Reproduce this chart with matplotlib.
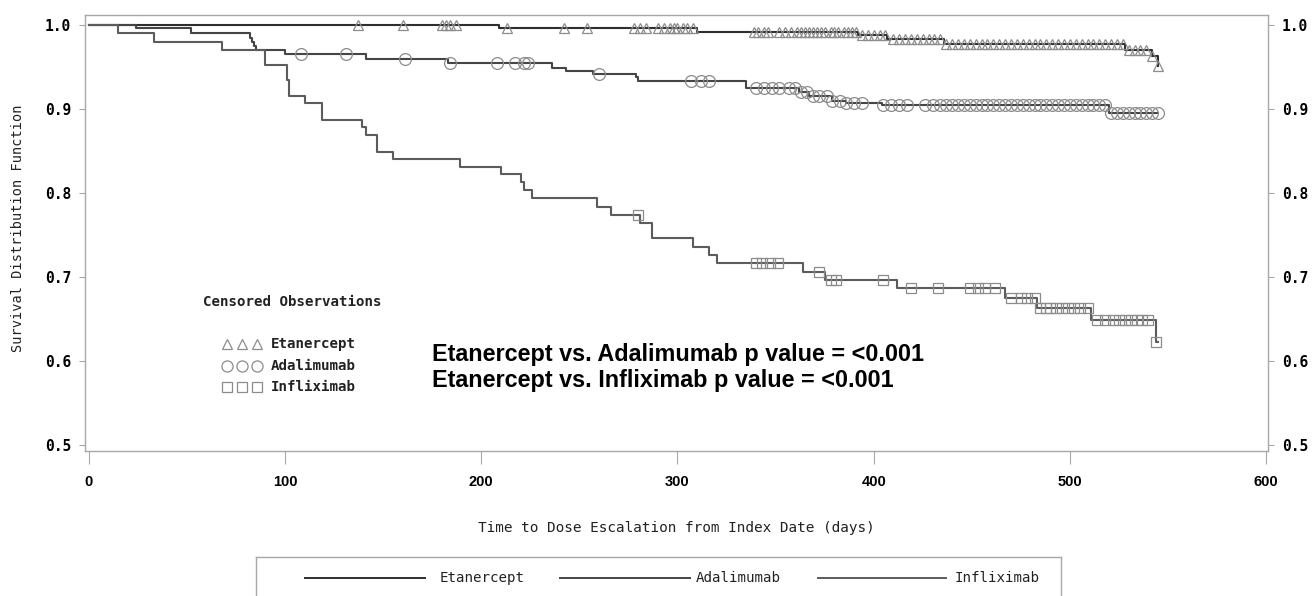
import numpy as np
import matplotlib
matplotlib.use("Agg")
import matplotlib.pyplot as plt
from matplotlib.lines import Line2D

# ---------------- data ----------------
eta_times = [0, 209, 310, 392, 407, 436, 528, 542, 545]
eta_surv = [1.0, 0.996, 0.992, 0.988, 0.983, 0.978, 0.970, 0.963, 0.951]
eta_cens = [137, 160, 180, 182, 184, 187, 213, 242, 254, 278, 281, 284, 290, 293,
            296, 298, 300, 303, 305, 308, 339, 341, 344, 346, 352, 355, 358, 361,
            363, 365, 367, 369, 371, 373, 375, 378, 380, 382, 385, 387, 389, 391,
            394, 397, 400, 403, 406, 410, 413, 416, 419, 422, 425, 428, 431, 434,
            437, 440, 443, 446, 449, 452, 455, 458, 461, 464, 467, 470, 473, 476,
            479, 482, 485, 488, 491, 494, 497, 500, 503, 506, 509, 512, 515, 518,
            521, 524, 527, 530, 533, 536, 539, 542, 545]

ada_times = [0, 24, 52, 82, 83, 84, 85, 100, 141, 183, 236, 243, 257, 279, 280,
             335, 362, 367, 379, 386, 404, 520]
ada_surv = [1.0, 0.997, 0.990, 0.985, 0.980, 0.975, 0.970, 0.966, 0.960, 0.955,
            0.949, 0.945, 0.942, 0.938, 0.934, 0.925, 0.920, 0.915, 0.910, 0.907,
            0.905, 0.895]
ada_cens = [108, 131, 161, 184, 208, 217, 222, 224, 260, 307, 312, 316, 340, 344,
            348, 352, 357, 360, 363, 366, 369, 372, 376, 379, 383, 386, 390, 394,
            405, 409, 413, 417, 426, 430, 434, 437, 440, 443, 446, 449, 452, 455,
            458, 461, 464, 467, 470, 473, 476, 479, 482, 485, 488, 491, 494, 497,
            500, 503, 506, 509, 512, 515, 518, 521, 524, 527, 530, 533, 536, 539,
            542, 545]

inf_times = [0, 15, 33, 68, 90, 101, 102, 110, 119, 139, 141, 147, 155, 189, 210,
             220, 222, 226, 259, 266, 281, 287, 308, 316, 320, 364, 375, 412, 467,
             483, 511, 544]
inf_surv = [1.0, 0.990, 0.980, 0.970, 0.952, 0.935, 0.915, 0.907, 0.887, 0.879,
            0.869, 0.849, 0.840, 0.831, 0.823, 0.813, 0.804, 0.794, 0.784, 0.774,
            0.764, 0.746, 0.736, 0.726, 0.717, 0.706, 0.696, 0.687, 0.675, 0.663,
            0.649, 0.623]
inf_cens = [280, 340, 343, 347, 351, 372, 378, 381, 405, 419, 433, 449, 453, 457,
            462, 470, 475, 478, 482, 485, 488, 490, 493, 496, 499, 502, 505, 509,
            514, 518, 522, 525, 528, 531, 534, 537, 540, 544]
end_day = 545

x_ticks = [0, 100, 200, 300, 400, 500, 600]
y_ticks = [0.5, 0.6, 0.7, 0.8, 0.9, 1.0]
series_names = ["Etanercept", "Adalimumab", "Infliximab"]

# ---------------- figure ----------------
W, H = 1316, 596
fig = plt.figure(figsize=(W / 100, H / 100), dpi=100)
fig.patch.set_facecolor("white")

def fx(px):
    return px / W

def fy(py):
    return 1 - py / H

ax = fig.add_axes([fx(85), fy(451), fx(1268) - fx(85), fy(15) - fy(451)])
ax.set_xlim(-2, 601)
ax.set_ylim(0.493, 1.012)

line_cols = ["#2e2e2e", "#454545", "#5c5c5c"]
mark_col = "#8c8c8c"
markers = ["^", "o", "s"]
msizes = [7.5, 8.5, 7.5]

def step_value(times, surv, t):
    i = np.searchsorted(np.array(times), t, side="right") - 1
    return surv[i]

for times, surv, cens, col, mk, ms in zip(
        [eta_times, ada_times, inf_times], [eta_surv, ada_surv, inf_surv],
        [eta_cens, ada_cens, inf_cens], line_cols, markers, msizes):
    xs = list(times) + [end_day]
    ys = list(surv) + [surv[-1]]
    ax.step(xs, ys, where="post", color=col, lw=1.5, zorder=3)
    cy = [step_value(times, surv, t) for t in cens]
    ax.plot(cens, cy, linestyle="none", marker=mk, ms=ms, mfc="none",
            mec=mark_col, mew=0.9, zorder=4)

for s in ax.spines.values():
    s.set_color("#a8a8a8")
    s.set_linewidth(1.0)

mono = "DejaVu Sans Mono"
ax.set_xticks(x_ticks)
ax.set_xticklabels([str(v) for v in x_ticks], fontfamily="Liberation Sans",
                   fontweight="bold", fontsize=10.5)
ax.set_yticks(y_ticks)
ax.set_yticklabels([f"{v:.1f}" for v in y_ticks], fontfamily=mono,
                   fontweight="bold", fontsize=10.5)
ax.tick_params(axis="y", which="both", left=True, right=True, labelleft=True,
               labelright=True, direction="out", length=4, color="#a8a8a8",
               pad=6)
ax.tick_params(axis="x", direction="out", length=9, color="#a8a8a8", pad=8)

fig.text(fx(18), fy(228), "Survival Distribution Function", rotation=90,
         ha="center", va="center", fontfamily=mono, fontsize=9.8, color="#222")
fig.text(fx(676), fy(528), "Time to Dose Escalation from Index Date (days)",
         ha="center", va="center", fontfamily=mono, fontsize=10.4, color="#222")

# censored observations legend
fig.text(fx(203), fy(302), "Censored Observations", ha="left", va="center",
         fontfamily=mono, fontweight="bold", fontsize=10.2, color="#222")
rows_y = [344, 366, 387]
for name, mk, ms, ry in zip(series_names, markers, msizes, rows_y):
    for mx in [227, 242, 257]:
        fig.add_artist(Line2D([fx(mx)], [fy(ry)], marker=mk, ms=ms - 0.5,
                              mfc="none", mec=mark_col, mew=0.9,
                              linestyle="none"))
    fig.text(fx(271), fy(ry), name, ha="left", va="center", fontfamily=mono,
             fontweight="bold", fontsize=10.2, color="#222")

# p-value text
fig.text(fx(432), fy(354), "Etanercept vs. Adalimumab p value = <0.001",
         ha="left", va="center", fontfamily="Liberation Sans",
         fontweight="bold", fontsize=16.8, color="black")
fig.text(fx(432), fy(380), "Etanercept vs. Infliximab p value = <0.001",
         ha="left", va="center", fontfamily="Liberation Sans",
         fontweight="bold", fontsize=16.8, color="black")

# bottom legend box
lax = fig.add_axes([fx(256), fy(600), fx(1061) - fx(256), fy(557) - fy(600)])
lax.set_xlim(0, 1)
lax.set_ylim(0, 1)
lax.set_xticks([])
lax.set_yticks([])
for s in lax.spines.values():
    s.set_color("#a8a8a8")
    s.set_linewidth(1.0)
lw_pos = [(305, 425, 440), (560, 690, 696), (818, 946, 955)]
for (x0, x1, tx), name, col in zip(lw_pos, series_names, line_cols):
    fig.add_artist(Line2D([fx(x0), fx(x1)], [fy(578), fy(578)], color=col,
                          lw=1.4))
    fig.text(fx(tx), fy(578), name, ha="left", va="center", fontfamily=mono,
             fontsize=10.2, color="#222")

fig.savefig("out.png", dpi=100, facecolor="white")
